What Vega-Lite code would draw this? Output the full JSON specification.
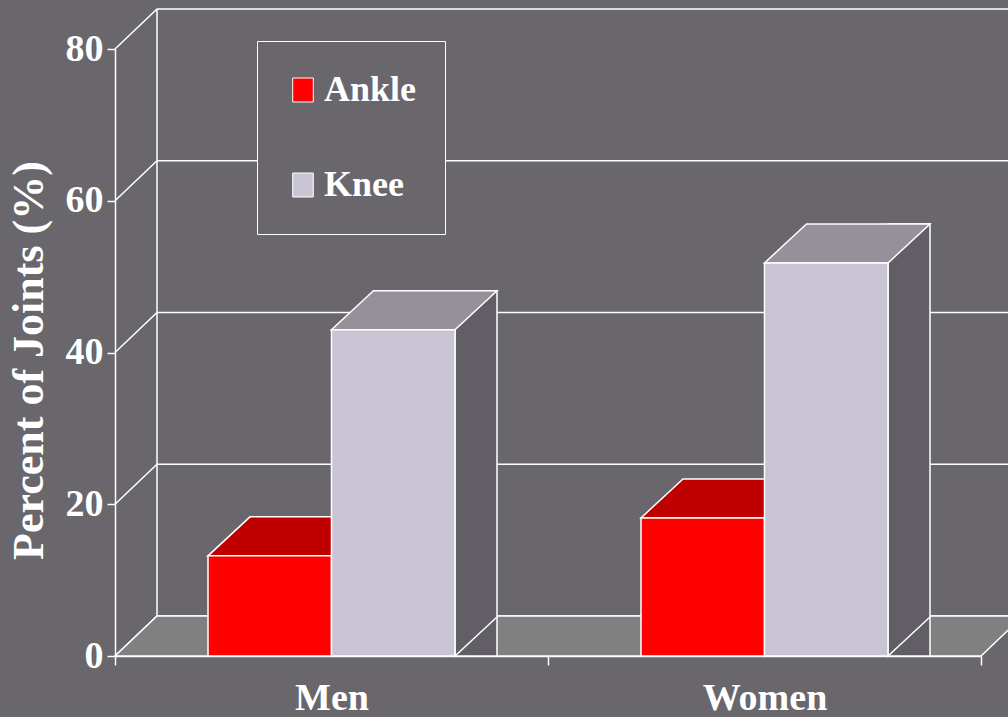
{
  "$schema": "https://vega.github.io/schema/vega-lite/v6.json",
  "width": 866,
  "height": 607,
  "autosize": {"type": "none"},
  "padding": {"left": 115, "top": 49, "right": 27, "bottom": 61},
  "background": "#69666c",
  "config": {
    "view": {"stroke": null},
    "font": "Liberation Serif",
    "axisY": {
      "tickCount": 4, "grid": false,
      "domainColor": "white", "domainWidth": 1.5, "tickColor": "white", "tickWidth": 1.5, "tickSize": 8,
      "labelColor": "white", "labelFont": "Liberation Serif", "labelFontWeight": "bold", "labelFontSize": 38, "labelPadding": 4,
      "titleColor": "white", "titleFont": "Liberation Serif", "titleFontWeight": "bold", "titleFontSize": 44,
      "titleAngle": -90, "titleX": -86, "titleY": 311, "titleAlign": "center", "titleBaseline": "middle"
    },
    "axisX": {
      "labelAngle": 0, "domainColor": "white", "domainWidth": 1.5, "grid": false,
      "tickBand": "extent", "tickColor": "white", "tickWidth": 1.5, "tickSize": 9,
      "labelColor": "white", "labelFont": "Liberation Serif", "labelFontWeight": "bold", "labelFontSize": 38,
      "labelBaseline": "alphabetic", "labelPadding": 44
    }
  },
  "datasets": {
    "bars": [
      {"group": "Men", "joint": "Ankle", "value": 13.2},
      {"group": "Men", "joint": "Knee", "value": 43},
      {"group": "Women", "joint": "Ankle", "value": 18.2},
      {"group": "Women", "joint": "Knee", "value": 51.8}
    ],
    "grid": [{"v": 0}, {"v": 20}, {"v": 40}, {"v": 60}, {"v": 80}]
  },
  "layer": [
    {
      "data": {"name": "grid"},
      "mark": {"type": "point", "shape": "M0,0L42,-40L908,-40", "size": 4, "filled": false, "fill": "transparent", "stroke": "white", "strokeWidth": 1.5, "opacity": 1},
      "encoding": {
        "x": {"datum": "Men", "type": "nominal", "bandPosition": 0, "title": null, "scale": {"domain": ["Men", "Women"], "paddingInner": 0, "paddingOuter": 0}},
        "y": {"field": "v", "type": "quantitative", "title": "Percent of Joints (%)", "scale": {"domain": [0, 80], "nice": false}}
      }
    },
    {
      "data": {"name": "grid"},
      "transform": [{"filter": "datum.v == 0"}],
      "mark": {"type": "point", "shape": "M0,0L0,-607", "size": 4, "filled": false, "fill": "transparent", "stroke": "white", "strokeWidth": 1.5, "opacity": 1, "xOffset": 42, "yOffset": -40},
      "encoding": {
        "x": {"datum": "Men", "type": "nominal", "bandPosition": 0, "title": null, "scale": {"domain": ["Men", "Women"], "paddingInner": 0, "paddingOuter": 0}},
        "y": {"field": "v", "type": "quantitative", "title": "Percent of Joints (%)", "scale": {"domain": [0, 80], "nice": false}}
      }
    },
    {
      "data": {"name": "grid"},
      "transform": [{"filter": "datum.v == 0"}],
      "mark": {"type": "point", "shape": "M0,0L866,0L908,-40L42,-40Z", "size": 4, "filled": true, "fill": "#808080", "stroke": "white", "strokeWidth": 1.5, "opacity": 1},
      "encoding": {
        "x": {"datum": "Men", "type": "nominal", "bandPosition": 0, "title": null, "scale": {"domain": ["Men", "Women"], "paddingInner": 0, "paddingOuter": 0}},
        "y": {"field": "v", "type": "quantitative", "title": "Percent of Joints (%)", "scale": {"domain": [0, 80], "nice": false}}
      }
    },
    {
      "data": {"name": "bars"},
      "transform": [{"filter": "datum.joint == 'Knee'"}],
      "mark": {"type": "bar", "fill": "#615e65", "stroke": "white", "strokeWidth": 1.5, "opacity": 1, "width": 42, "xOffset": 144.5, "yOffset": -39, "y2Offset": -39},
      "encoding": {
        "x": {"field": "group", "type": "nominal", "title": null, "scale": {"domain": ["Men", "Women"], "paddingInner": 0, "paddingOuter": 0}},
        "y": {"field": "value", "type": "quantitative", "stack": null, "title": "Percent of Joints (%)", "scale": {"domain": [0, 80], "nice": false}}
      }
    },
    {
      "data": {"name": "bars"},
      "mark": {"type": "point", "shape": "M61.75,-41L61.75,0L103.75,-39L103.75,-41", "size": 4, "filled": true, "fill": "#615e65", "stroke": "white", "strokeWidth": 1.5, "opacity": 1},
      "encoding": {
        "x": {"field": "group", "type": "nominal", "title": null, "scale": {"domain": ["Men", "Women"], "paddingInner": 0, "paddingOuter": 0}},
        "xOffset": {"field": "joint", "type": "nominal", "scale": {"domain": ["Ankle", "Knee"], "paddingInner": 0, "paddingOuter": 0.753}},
        "y": {"datum": 0, "type": "quantitative", "title": "Percent of Joints (%)", "scale": {"domain": [0, 80], "nice": false}}
      }
    },
    {
      "data": {"name": "bars"},
      "mark": {"type": "point", "shape": "M-61.75,0L61.75,0L103.75,-39L-19.75,-39Z", "size": 4, "filled": true, "stroke": "white", "strokeWidth": 1.5, "opacity": 1},
      "encoding": {
        "x": {"field": "group", "type": "nominal", "title": null, "scale": {"domain": ["Men", "Women"], "paddingInner": 0, "paddingOuter": 0}},
        "xOffset": {"field": "joint", "type": "nominal", "scale": {"domain": ["Ankle", "Knee"], "paddingInner": 0, "paddingOuter": 0.753}},
        "y": {"field": "value", "type": "quantitative", "title": "Percent of Joints (%)", "scale": {"domain": [0, 80], "nice": false}},
        "fill": {"condition": {"test": "datum.joint == 'Ankle'", "value": "#bf0000"}, "value": "#96909b"}
      }
    },
    {
      "data": {"name": "bars"},
      "mark": {"type": "bar", "stroke": "white", "strokeWidth": 1.5, "opacity": 1},
      "encoding": {
        "x": {"field": "group", "type": "nominal", "title": null, "scale": {"domain": ["Men", "Women"], "paddingInner": 0, "paddingOuter": 0}},
        "xOffset": {"field": "joint", "type": "nominal", "scale": {"domain": ["Ankle", "Knee"], "paddingInner": 0, "paddingOuter": 0.753}},
        "y": {"field": "value", "type": "quantitative", "stack": null, "title": "Percent of Joints (%)", "scale": {"domain": [0, 80], "nice": false}},
        "color": {
          "field": "joint", "type": "nominal",
          "scale": {"domain": ["Ankle", "Knee"], "range": ["#ff0000", "#c9c4d3"]},
          "legend": {
            "title": null, "orient": "none", "legendX": 142, "legendY": -8,
            "fillColor": "#69666c", "strokeColor": "white", "padding": 28,
            "symbolType": "M-1,-1.165H1V1.165H-1Z", "symbolSize": 424, "symbolStrokeColor": "white", "symbolStrokeWidth": 1,
            "labelColor": "white", "labelFont": "Liberation Serif", "labelFontWeight": "bold", "labelFontSize": 36,
            "labelOffset": 3, "rowPadding": 53, "clipHeight": 42
          }
        }
      }
    }
  ]
}
